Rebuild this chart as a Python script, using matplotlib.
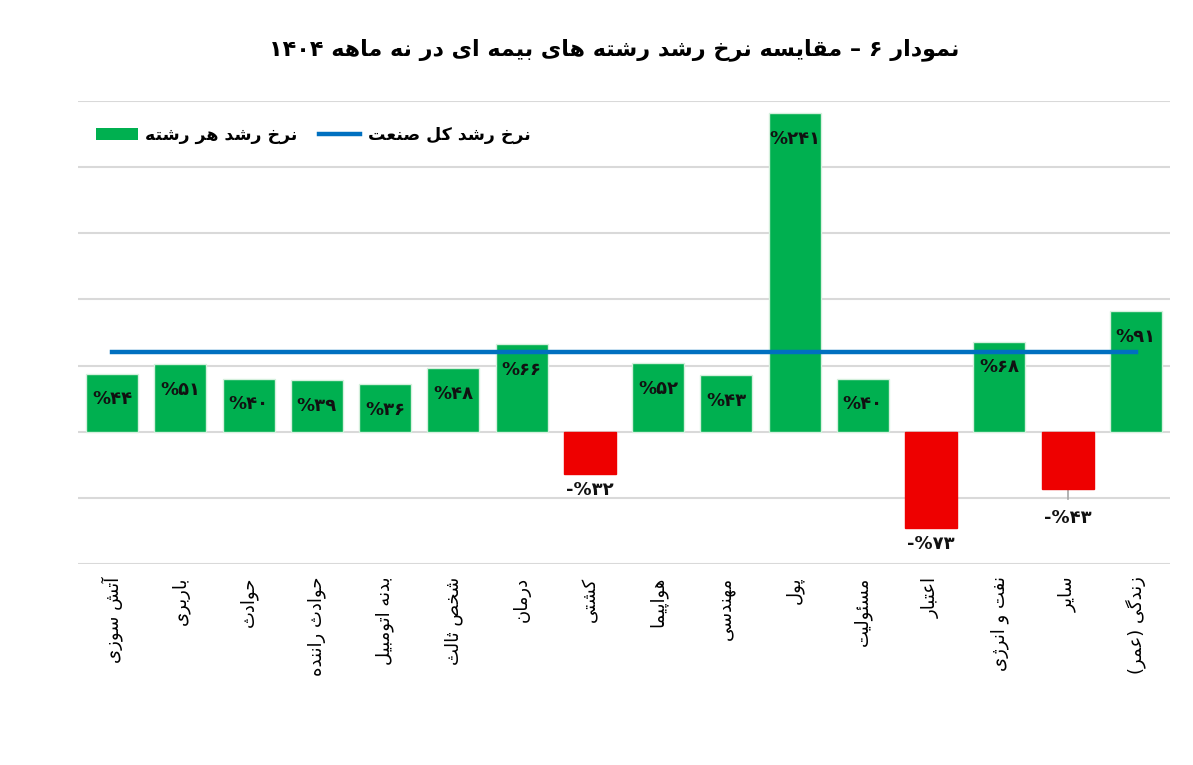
import re
import matplotlib
matplotlib.use("Agg")
import matplotlib.pyplot as plt
from matplotlib.patches import Patch
from matplotlib.lines import Line2D

# داده ها
categories = ["آتش سوزی", "باربری", "حوادث", "حوادث راننده", "بدنه اتومبیل", "شخص ثالث",
              "درمان", "کشتی", "هواپیما", "مهندسی", "پول", "مسئولیت", "اعتبار",
              "نفت و انرژی", "سایر", "زندگی (عمر)"]
growth = [44, 51, 40, 39, 36, 48, 66, -32, 52, 43, 241, 40, -73, 68, -43, 91]
industry_growth = 60

title = "نمودار ۶ – مقایسه نرخ رشد رشته های بیمه ای در نه ماهه ۱۴۰۴"
legend_bar = "نرخ رشد هر رشته"
legend_line = "نرخ رشد کل صنعت"

# شکل حروف: (تنها، پایانی، آغازی، میانی)
FORMS = {
    "ا": (0xFE8D, 0xFE8E), "آ": (0xFE81, 0xFE82), "د": (0xFEA9, 0xFEAA), "ذ": (0xFEAB, 0xFEAC),
    "ر": (0xFEAD, 0xFEAE), "ز": (0xFEAF, 0xFEB0), "ژ": (0xFB8A, 0xFB8B), "و": (0xFEED, 0xFEEE),
    "ب": (0xFE8F, 0xFE90, 0xFE91, 0xFE92), "پ": (0xFB56, 0xFB57, 0xFB58, 0xFB59),
    "ت": (0xFE95, 0xFE96, 0xFE97, 0xFE98), "ث": (0xFE99, 0xFE9A, 0xFE9B, 0xFE9C),
    "ج": (0xFE9D, 0xFE9E, 0xFE9F, 0xFEA0), "چ": (0xFB7A, 0xFB7B, 0xFB7C, 0xFB7D),
    "ح": (0xFEA1, 0xFEA2, 0xFEA3, 0xFEA4), "خ": (0xFEA5, 0xFEA6, 0xFEA7, 0xFEA8),
    "س": (0xFEB1, 0xFEB2, 0xFEB3, 0xFEB4), "ش": (0xFEB5, 0xFEB6, 0xFEB7, 0xFEB8),
    "ص": (0xFEB9, 0xFEBA, 0xFEBB, 0xFEBC), "ض": (0xFEBD, 0xFEBE, 0xFEBF, 0xFEC0),
    "ط": (0xFEC1, 0xFEC2, 0xFEC3, 0xFEC4), "ظ": (0xFEC5, 0xFEC6, 0xFEC7, 0xFEC8),
    "ع": (0xFEC9, 0xFECA, 0xFECB, 0xFECC), "غ": (0xFECD, 0xFECE, 0xFECF, 0xFED0),
    "ف": (0xFED1, 0xFED2, 0xFED3, 0xFED4), "ق": (0xFED5, 0xFED6, 0xFED7, 0xFED8),
    "ک": (0xFB8E, 0xFB8F, 0xFB90, 0xFB91), "گ": (0xFB92, 0xFB93, 0xFB94, 0xFB95),
    "ل": (0xFEDD, 0xFEDE, 0xFEDF, 0xFEE0), "م": (0xFEE1, 0xFEE2, 0xFEE3, 0xFEE4),
    "ن": (0xFEE5, 0xFEE6, 0xFEE7, 0xFEE8), "ه": (0xFEE9, 0xFEEA, 0xFEEB, 0xFEEC),
    "ی": (0xFBFC, 0xFBFD, 0xFBFE, 0xFBFF), "ئ": (0xFE89, 0xFE8A, 0xFE8B, 0xFE8C),
}
MIRROR = {"(": ")", ")": "("}


def fa(text):
    chars = list(text)
    shaped = []
    i = 0
    while i < len(chars):
        c = chars[i]
        prev_joins = i > 0 and chars[i - 1] in FORMS and len(FORMS[chars[i - 1]]) == 4
        if c == "ل" and i + 1 < len(chars) and chars[i + 1] in "اآ":
            lig = {"ا": (0xFEFB, 0xFEFC), "آ": (0xFEF5, 0xFEF6)}[chars[i + 1]]
            shaped.append(chr(lig[1] if prev_joins else lig[0]))
            i += 2
            continue
        if c not in FORMS:
            shaped.append(MIRROR.get(c, c))
            i += 1
            continue
        f = FORMS[c]
        next_joins = len(f) == 4 and i + 1 < len(chars) and chars[i + 1] in FORMS
        if prev_joins and next_joins:
            shaped.append(chr(f[3]))
        elif prev_joins:
            shaped.append(chr(f[1]))
        elif next_joins:
            shaped.append(chr(f[2]))
        else:
            shaped.append(chr(f[0]))
        i += 1
    tokens = re.findall(r"[0-9۰-۹]+|.", "".join(shaped))
    return "".join(reversed(tokens))


def fa_num(v):
    digits = str(abs(v)).translate(str.maketrans("0123456789", "۰۱۲۳۴۵۶۷۸۹"))
    return ("-%" if v < 0 else "%") + digits


plt.rcParams["font.family"] = ["DejaVu Sans"]

fig = plt.figure(figsize=(11.93, 7.65), dpi=100)
ax = fig.add_axes([0.0654, 0.2627, 0.9153, 0.6053])

x = list(range(len(categories)))
colors = ["#00B050" if v >= 0 else "#EE0000" for v in growth]
ax.bar(x, growth, width=0.76, color=colors, edgecolor=["#d5f0dd" if v >= 0 else "#EE0000" for v in growth],
       linewidth=1, zorder=2)
ax.plot([x[0], x[-1]], [industry_growth, industry_growth], color="#0070C0", linewidth=3.2, zorder=3)

for xi, v in zip(x, growth):
    if v >= 0:
        ax.annotate(fa_num(v), (xi, v), xytext=(0, -12), textcoords="offset points",
                    ha="center", va="top", fontsize=13, fontweight="bold", color="#111111", zorder=4)
    elif xi == 14:
        ax.annotate(fa_num(v), (xi, v), xytext=(0, -15), textcoords="offset points",
                    ha="center", va="top", fontsize=13, fontweight="bold", color="#111111")
        ax.plot([xi, xi], [v, v - 7.5], color="#a6a6a6", linewidth=1.2, zorder=1)
    else:
        ax.annotate(fa_num(v), (xi, v), xytext=(0, -5), textcoords="offset points",
                    ha="center", va="top", fontsize=13, fontweight="bold", color="#111111")

ax.set_xlim(-0.5, len(categories) - 0.5)
ax.set_ylim(-100, 250)
ax.set_yticks(range(-100, 251, 50))
ax.yaxis.grid(True, color="#d9d9d9", linewidth=1.5, zorder=0)
ax.tick_params(axis="y", left=False, labelleft=False)
ax.set_xticks(x)
ax.set_xticklabels([fa(c) for c in categories], rotation=90, fontsize=13, va="top", ha="center")
ax.tick_params(axis="x", length=0, pad=9)
for s in ax.spines.values():
    s.set_visible(False)
ax.set_axisbelow(True)

fig.text(0.515, 0.935, fa(title), ha="center", va="center", fontsize=16, fontweight="bold")

handles = [Patch(facecolor="#00B050", edgecolor="none"),
           Line2D([0], [0], color="#0070C0", linewidth=3.2)]
ax.legend(handles, [fa(legend_bar), fa(legend_line)], loc="center left", ncol=2, frameon=False,
          bbox_to_anchor=(0.010, 0.927), prop={"weight": "bold", "size": 12.5},
          handlelength=2.4, handletextpad=0.45, columnspacing=1.2, borderaxespad=0.0)

fig.savefig("out.png", dpi=100)
